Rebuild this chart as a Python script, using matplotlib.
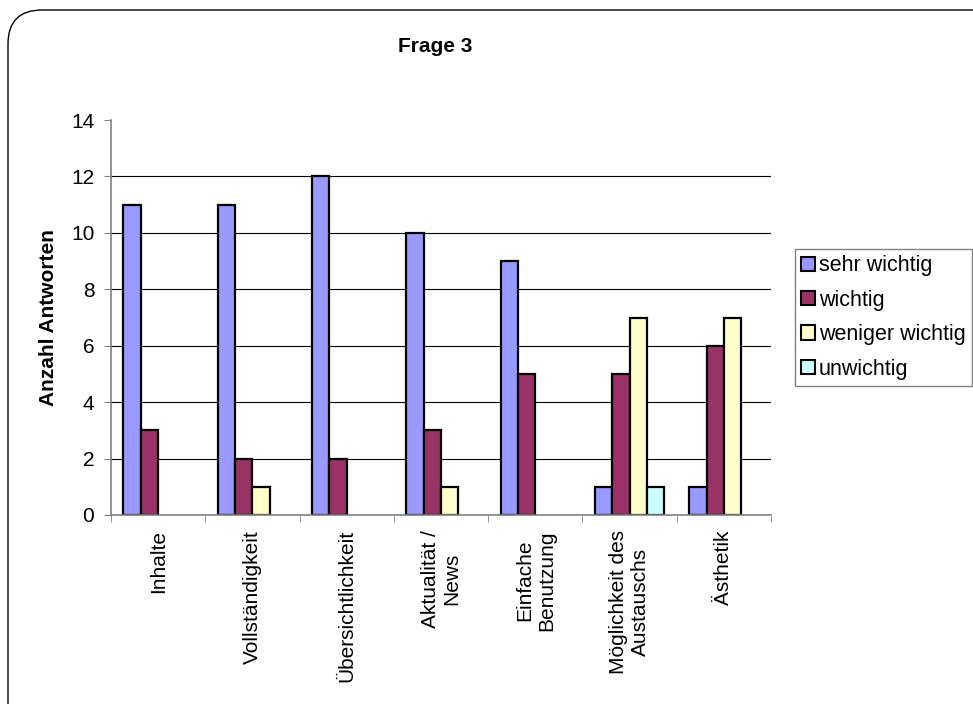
import numpy as np
import matplotlib
matplotlib.use('Agg')
import matplotlib.pyplot as plt
from matplotlib.patches import Patch, FancyBboxPatch

plt.rcParams['font.family'] = ['Liberation Sans', 'DejaVu Sans']

# Data
categories = ['Inhalte', 'Vollständigkeit', 'Übersichtlichkeit', 'Aktualität /\nNews',
              'Einfache\nBenutzung', 'Möglichkeit des\nAustauschs', 'Ästhetik']
series_names = ['sehr wichtig', 'wichtig', 'weniger wichtig', 'unwichtig']
sehr_wichtig = [11, 11, 12, 10, 9, 1, 1]
wichtig = [3, 2, 2, 3, 5, 5, 6]
weniger_wichtig = [0, 1, 0, 1, 0, 7, 7]
unwichtig = [0, 0, 0, 0, 0, 1, 0]
colors = ['#9999FF', '#993366', '#FFFFCC', '#CCFFFF']
yticks = [0, 2, 4, 6, 8, 10, 12, 14]

W, H = 973, 704
fig = plt.figure(figsize=(W / 100, H / 100), dpi=100)

# rounded chart border (runs off the right/bottom edge)
border = FancyBboxPatch((8 / W, -0.2), 1.2, 1 - 10 / H + 0.2,
                        boxstyle='round,pad=0,rounding_size=0.035',
                        transform=fig.transFigure, facecolor='none',
                        edgecolor='black', linewidth=1.0, mutation_aspect=W / H,
                        zorder=-1)
fig.patches.append(border)

ax = fig.add_axes([111 / W, 1 - 515 / H, 660 / W, 395 / H])
ax.set_facecolor('none')

x = np.arange(len(categories))
w = 0.184
all_series = [sehr_wichtig, wichtig, weniger_wichtig, unwichtig]
for i, (vals, col) in enumerate(zip(all_series, colors)):
    vals = np.array(vals)
    m = vals > 0
    ax.bar(x[m] + (i - 1.5) * w, vals[m], width=w, color=col,
           edgecolor='black', linewidth=1.6, zorder=3)

for yv in yticks[1:-1]:
    ax.axhline(yv, color='black', linewidth=0.8, zorder=1)

ax.set_xlim(-0.5, len(categories) - 0.5)
ax.set_ylim(0, 14)
for s in ['top', 'right']:
    ax.spines[s].set_visible(False)
for s in ['left', 'bottom']:
    ax.spines[s].set_color('#808080')
    ax.spines[s].set_linewidth(1.2)
    ax.spines[s].set_zorder(4)

ax.set_yticks(yticks)
ax.set_yticklabels([str(v) for v in yticks], fontsize=15)
ax.tick_params(axis='y', length=5, color='#808080', pad=7)

ax.set_xticks(x)
ax.set_xticklabels(categories, rotation=90, ha='center', va='top',
                   multialignment='center', fontsize=15)
ax.tick_params(axis='x', length=0, pad=11)
ax.set_xticks(np.arange(-0.5, len(categories)), minor=True)
ax.tick_params(axis='x', which='minor', length=5, color='#808080', direction='out')

ax.set_ylabel('Anzahl Antworten', fontsize=15, fontweight='bold', labelpad=9)

fig.text(435 / W, 1 - 47 / H, 'Frage 3', ha='center', va='center',
         fontsize=15, fontweight='bold')

handles = [Patch(facecolor=c, edgecolor='black', linewidth=1.5) for c in colors]
leg = fig.legend(handles, series_names, loc='upper left',
                 bbox_to_anchor=(795 / W, 1 - 249 / H), fontsize=15.5,
                 frameon=True, fancybox=False, handlelength=0.65, handleheight=0.65,
                 handletextpad=0.15, labelspacing=0.62, borderpad=0.3,
                 borderaxespad=0)
leg.get_frame().set_edgecolor('#606060')
leg.get_frame().set_linewidth(1.0)

fig.savefig('out.png', dpi=100)
